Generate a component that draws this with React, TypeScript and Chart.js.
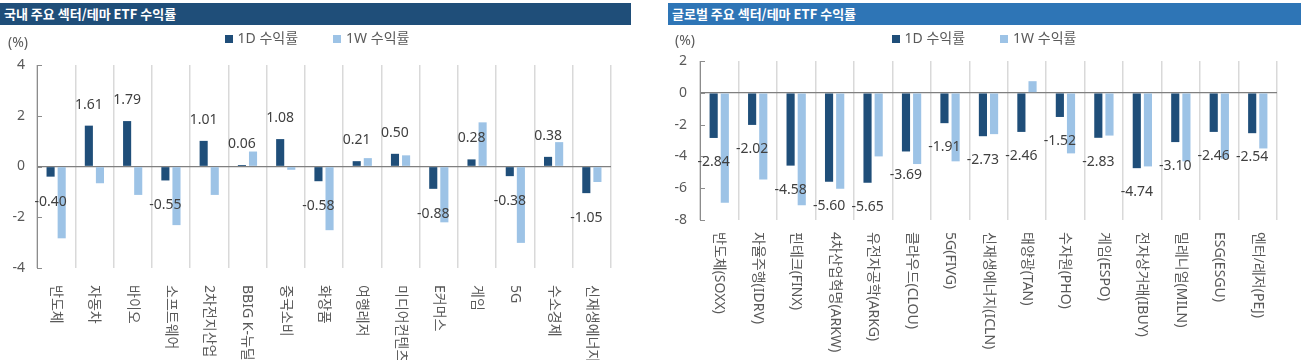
import React, { useEffect, useRef } from 'react';
import { Chart, registerables } from 'chart.js';

Chart.register(...registerables);

// ---------- data ----------
const seriesNames = ['1D 수익률', '1W 수익률'];

const krTitle = '국내 주요 섹터/테마 ETF 수익률';
const krCategories = ['반도체', '자동차', '바이오', '소프트웨어', '2차전지산업', 'BBIG K-뉴딜', '중국소비', '화장품', '여행레저', '미디어컨텐츠', 'E커머스', '게임', '5G', '수소경제', '신재생에너지'];
const kr1D = [-0.40, 1.61, 1.79, -0.55, 1.01, 0.06, 1.08, -0.58, 0.21, 0.50, -0.88, 0.28, -0.38, 0.38, -1.05];
const kr1W = [-2.83, -0.66, -1.12, -2.31, -1.12, 0.59, -0.13, -2.51, 0.33, 0.44, -2.20, 1.74, -3.01, 0.96, -0.61];
const krTicks = [-4, -2, 0, 2, 4];

const glTitle = '글로벌 주요 섹터/테마 ETF 수익률';
const glCategories = ['반도체(SOXX)', '자율주행(IDRV)', '핀테크(FINX)', '4차산업혁명(ARKW)', '유전자공학(ARKG)', '클라우드(CLOU)', '5G(FIVG)', '신재생에너지(ICLN)', '태양광(TAN)', '수자원(PHO)', '게임(ESPO)', '전자상거래(IBUY)', '밀레니얼(MILN)', 'ESG(ESGU)', '엔터/레저(PEJ)'];
const gl1D = [-2.84, -2.02, -4.58, -5.60, -5.65, -3.69, -1.91, -2.73, -2.46, -1.52, -2.83, -4.74, -3.10, -2.46, -2.54];
const gl1W = [-6.92, -5.46, -7.08, -6.04, -4.00, -4.48, -4.31, -2.60, 0.73, -3.81, -2.69, -4.63, -4.31, -4.15, -3.50];
const glTicks = [-8, -6, -4, -2, 0, 2];

const unitLabel = '(%)';

// ---------- styles ----------
const COLOR_1D = '#1F4E79';
const COLOR_1W = '#9DC3E6';
const TEXT = '#595959';
const FONT = "'Noto Sans', 'Noto Sans CJK KR', sans-serif";
const CANVAS_TOP = 28;
const CANVAS_H = 332;

type Cfg = {
  labels: string[];
  d1: number[];
  w1: number[];
  ticks: number[];
  yWidth: number;
  padRight: number;
  padTop: number;
  padBottom: number;
  tickPad: number;
  unitX: number;
  unitY: number;
  above: number;
  below: number;
  labelGap: number;
  legendCX: number;
  legendY: number;
};

function makeChart(canvas: HTMLCanvasElement, cfg: Cfg) {
  const overlay = {
    id: 'overlay',
    afterDraw(chart: any) {
      const ctx = chart.ctx as CanvasRenderingContext2D;
      const area = chart.chartArea;
      const xs = chart.scales.x;
      const ys = chart.scales.y;
      ctx.save();
      // inward y ticks
      ctx.strokeStyle = '#8c8c8c';
      ctx.lineWidth = 1;
      ys.ticks.forEach((t: any) => {
        const py = Math.round(ys.getPixelForValue(t.value)) + 0.5;
        ctx.beginPath();
        ctx.moveTo(area.left, py);
        ctx.lineTo(area.left + 5, py);
        ctx.stroke();
      });
      // data labels for 1D series
      const meta = chart.getDatasetMeta(0);
      ctx.fillStyle = '#404040';
      ctx.font = `14px ${FONT}`;
      ctx.textAlign = 'center';
      ctx.textBaseline = 'middle';
      meta.data.forEach((bar: any, i: number) => {
        const v = cfg.d1[i];
        const py = v >= 0 ? bar.y - cfg.above : bar.y + cfg.below;
        ctx.fillText(v.toFixed(2), bar.x, py);
      });
      // category labels, rotated to read downward
      ctx.fillStyle = TEXT;
      ctx.font = `14px ${FONT}`;
      cfg.labels.forEach((lab, i) => {
        const px = xs.getPixelForValue(i);
        ctx.save();
        ctx.translate(px, area.bottom + cfg.labelGap);
        ctx.rotate(Math.PI / 2);
        ctx.textAlign = 'left';
        ctx.textBaseline = 'middle';
        ctx.fillText(lab, 0, 0);
        ctx.restore();
      });
      // legend
      ctx.font = `14px ${FONT}`;
      ctx.textAlign = 'left';
      ctx.textBaseline = 'middle';
      const items = chart.data.datasets.map((d: any) => ({ text: d.label as string, color: d.backgroundColor as string }));
      const box = 8, boxGap = 5, itemGap = 35;
      const widths = items.map((it: any) => box + boxGap + ctx.measureText(it.text).width);
      const total = widths.reduce((a: number, b: number) => a + b, 0) + itemGap * (items.length - 1);
      let lx = cfg.legendCX - total / 2;
      items.forEach((it: any, i: number) => {
        ctx.fillStyle = it.color;
        ctx.fillRect(Math.round(lx), Math.round(cfg.legendY - box / 2), box, box);
        ctx.fillStyle = TEXT;
        ctx.fillText(it.text, lx + box + boxGap, cfg.legendY);
        lx += widths[i] + itemGap;
      });
      // unit
      ctx.fillStyle = TEXT;
      ctx.font = `14px ${FONT}`;
      ctx.textAlign = 'center';
      ctx.textBaseline = 'middle';
      ctx.fillText(unitLabel, cfg.unitX, cfg.unitY);
      ctx.restore();
    },
  };

  return new Chart(canvas, {
    type: 'bar',
    data: {
      labels: cfg.labels,
      datasets: [
        { label: seriesNames[0], data: cfg.d1, backgroundColor: COLOR_1D, borderWidth: 0, categoryPercentage: 0.58, barPercentage: 0.73 },
        { label: seriesNames[1], data: cfg.w1, backgroundColor: COLOR_1W, borderWidth: 0, categoryPercentage: 0.58, barPercentage: 0.73 },
      ],
    },
    options: {
      responsive: false,
      animation: false,
      devicePixelRatio: 1,
      layout: { padding: { left: 0, right: cfg.padRight, top: cfg.padTop, bottom: cfg.padBottom } },
      plugins: {
        legend: { display: false },
        tooltip: { enabled: false },
      },
      scales: {
        x: {
          offset: true,
          grid: { display: true, offset: true, color: '#d9d9d9', lineWidth: 1.5, drawTicks: false },
          border: { display: false },
          ticks: { display: false },
        },
        y: {
          min: Math.min(...cfg.ticks),
          max: Math.max(...cfg.ticks),
          afterBuildTicks: (s: any) => { s.ticks = cfg.ticks.map((v) => ({ value: v })); },
          afterFit: (s: any) => { s.width = cfg.yWidth; },
          grid: {
            display: true,
            drawTicks: false,
            color: (c: any) => (c.tick && c.tick.value === 0 ? '#808080' : 'rgba(0,0,0,0)'),
            lineWidth: 1.3,
          },
          border: { display: true, color: '#8c8c8c', width: 1 },
          ticks: { color: TEXT, font: { size: 14, family: FONT }, padding: cfg.tickPad },
        },
      },
    },
    plugins: [overlay],
  } as any);
}

function Panel({ cfg, left, width }: { cfg: Cfg; left: number; width: number }) {
  const ref = useRef<HTMLCanvasElement>(null);
  useEffect(() => {
    const c = makeChart(ref.current as HTMLCanvasElement, cfg);
    return () => c.destroy();
  }, []);
  return (
    <canvas
      ref={ref}
      width={width}
      height={CANVAS_H}
      style={{ position: 'absolute', left, top: CANVAS_TOP, width, height: CANVAS_H }}
    />
  );
}

const titleStyle: React.CSSProperties = {
  position: 'absolute',
  top: 3,
  height: 22,
  lineHeight: '22px',
  color: '#ffffff',
  fontFamily: "'Noto Sans CJK KR', sans-serif",
  fontWeight: 700,
  fontSize: 13,
  paddingLeft: 4,
  boxSizing: 'border-box',
  whiteSpace: 'nowrap',
};

const krCfg: Cfg = {
  labels: krCategories, d1: kr1D, w1: kr1W, ticks: krTicks,
  yWidth: 37, padRight: 39, padTop: 37, padBottom: 92, tickPad: 12,
  unitX: 18, unitY: 15, above: 21, below: 25, labelGap: 17,
  legendCX: 317, legendY: 11,
};

const glCfg: Cfg = {
  labels: glCategories, d1: gl1D, w1: gl1W, ticks: glTicks,
  yWidth: 50, padRight: 25, padTop: 33, padBottom: 140, tickPad: 13,
  unitX: 35, unitY: 13, above: 21, below: 24, labelGap: 12,
  legendCX: 334, legendY: 11,
};

export default function App() {
  return (
    <div style={{ position: 'absolute', left: 0, top: 0, width: 1302, height: 360, background: '#ffffff', overflow: 'hidden' }}>
      <div style={{ ...titleStyle, left: 0, width: 631, background: '#1F4E79' }}>{krTitle}</div>
      <div style={{ ...titleStyle, left: 668, width: 633, background: '#2E75B6' }}>{glTitle}</div>
      <Panel cfg={krCfg} left={0} width={650} />
      <Panel cfg={glCfg} left={650} width={652} />
    </div>
  );
}
